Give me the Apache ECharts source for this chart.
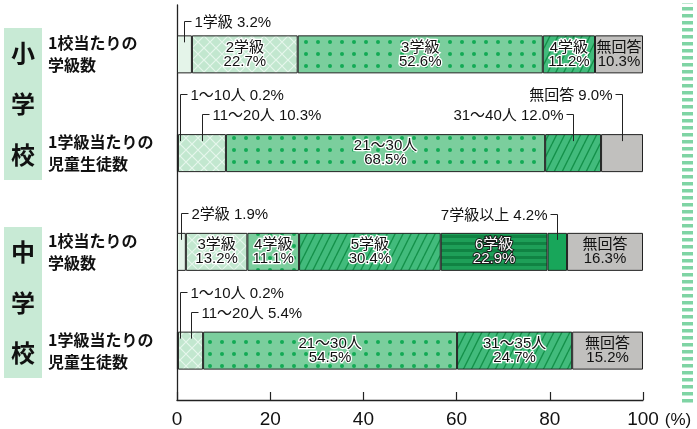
<!DOCTYPE html>
<html>
<head>
<meta charset="utf-8">
<script src="https://cdn.jsdelivr.net/npm/echarts@6/dist/echarts.min.js"></script>
<style>
  html, body { margin: 0; padding: 0; background: #fff; }
  #chart { width: 697px; height: 429px; }
</style>
</head>
<body>
<div id="chart"></div>
<script>
// ---- data ----
const rowLabels = ['1校当たりの\n学級数', '1学級当たりの\n児童生徒数', '1校当たりの\n学級数', '1学級当たりの\n児童生徒数'];
const groupLabels = ['小学校', '中学校'];

const elemClassNames = ['1学級', '2学級', '3学級', '4学級', '無回答'];
const elemClassValues = [3.2, 22.7, 52.6, 11.2, 10.3];

const elemSizeNames = ['1〜10人', '11〜20人', '21〜30人', '31〜40人', '無回答'];
const elemSizeValues = [0.2, 10.3, 68.5, 12.0, 9.0];

const juniorClassNames = ['2学級', '3学級', '4学級', '5学級', '6学級', '7学級以上', '無回答'];
const juniorClassValues = [1.9, 13.2, 11.1, 30.4, 22.9, 4.2, 16.3];

const juniorSizeNames = ['1〜10人', '11〜20人', '21〜30人', '31〜35人', '無回答'];
const juniorSizeValues = [0.2, 5.4, 54.5, 24.7, 15.2];

const xTicks = [0, 20, 40, 60, 80, 100];

// segments labelled outside the bar with a leader line: [row, segment]
const calloutSegments = [[0, 0], [1, 0], [1, 1], [1, 3], [1, 4], [2, 0], [2, 5], [3, 0], [3, 1]];

// ---- styling ----
const FONT = '"Liberation Sans", "Noto Sans CJK JP", sans-serif';
const JP_FONT = '"Noto Sans CJK JP", "Noto Sans", sans-serif';

// fill kind of each segment, per row
const rowFills = [
  ['pale', 'cross', 'dots', 'stripe', 'gray'],
  ['pale', 'cross', 'dots', 'stripe', 'gray'],
  ['pale', 'cross', 'dots', 'stripe', 'dark', 'solid', 'gray'],
  ['pale', 'cross', 'dots', 'stripe', 'gray']
];

// leader line layout for each callout: rise above bar centre and text side
const calloutLayout = [
  { rise: 33, side: 'left' },
  { rise: 59, side: 'left' },
  { rise: 39, side: 'left' },
  { rise: 39, side: 'right' },
  { rise: 59, side: 'right' },
  { rise: 39, side: 'left' },
  { rise: 38, side: 'right' },
  { rise: 59, side: 'left' },
  { rise: 39, side: 'left' }
];

function tile(w, h, draw) {
  const c = document.createElement('canvas');
  c.width = w; c.height = h;
  draw(c.getContext('2d'), w, h);
  return { image: c, repeat: 'repeat' };
}

const fills = {
  pale: '#e4f4e9',
  cross: tile(12, 12, (g, w, h) => {
    g.fillStyle = '#c2e7cf'; g.fillRect(0, 0, w, h);
    g.strokeStyle = '#e6f6ec'; g.lineWidth = 1.2;
    g.beginPath();
    g.moveTo(0, 0); g.lineTo(w, h);
    g.moveTo(w, 0); g.lineTo(0, h);
    g.stroke();
  }),
  dots: tile(12, 12, (g, w, h) => {
    g.fillStyle = '#7bce9d'; g.fillRect(0, 0, w, h);
    g.fillStyle = '#13aa55';
    g.beginPath(); g.arc(6, 6, 2, 0, Math.PI * 2); g.fill();
  }),
  stripe: tile(8, 16, (g, w, h) => {
    g.fillStyle = '#42bb7c'; g.fillRect(0, 0, w, h);
    g.strokeStyle = '#14914a'; g.lineWidth = 1.4;
    g.beginPath();
    for (let s = -w; s <= w; s += w) { g.moveTo(s, h); g.lineTo(s + w, 0); }
    g.stroke();
  }),
  dark: tile(4, 7, (g, w, h) => {
    g.fillStyle = '#1e9f58'; g.fillRect(0, 0, w, h);
    g.fillStyle = '#108343'; g.fillRect(0, 4, w, 3);
  }),
  solid: '#18a65a',
  gray: '#c1c0be'
};

const labelStyles = {
  normal: { color: '#111', textBorderColor: '#fff', textBorderWidth: 2.5 },
  dark: { color: '#fff', textBorderColor: '#1a1a1a', textBorderWidth: 2 },
  gray: { color: '#111', textBorderWidth: 0 }
};

// ---- build ----
const rows = [
  { names: elemClassNames, values: elemClassValues },
  { names: elemSizeNames, values: elemSizeValues },
  { names: juniorClassNames, values: juniorClassValues },
  { names: juniorSizeNames, values: juniorSizeValues }
];
const maxSegs = Math.max(...rows.map(r => r.values.length));
const isCallout = (i, k) => calloutSegments.some(c => c[0] === i && c[1] === k);

const barSeries = [];
for (let k = 0; k < maxSegs; k++) {
  barSeries.push({
    type: 'bar',
    stack: 'total',
    barWidth: 38,
    animation: false,
    data: rows.map((r, i) => {
      if (k >= r.values.length) return '-';
      const kind = rowFills[i][k];
      const ls = kind === 'gray' ? labelStyles.gray : kind === 'dark' ? labelStyles.dark : labelStyles.normal;
      return {
        value: r.values[k],
        name: r.names[k],
        itemStyle: { color: fills[kind], borderColor: '#222', borderWidth: 1 },
        label: Object.assign({
          show: !isCallout(i, k),
          position: 'inside',
          fontFamily: FONT,
          fontSize: 15,
          lineHeight: 14,
          formatter: p => p.name + '\n' + p.value.toFixed(1) + '%'
        }, ls)
      };
    })
  });
}

// callout anchors sit at the middle of their segment
const calloutData = calloutSegments.map(([i, k]) => {
  const vals = rows[i].values;
  let start = 0;
  for (let j = 0; j < k; j++) start += vals[j];
  return [start + vals[k] / 2, i, rows[i].names[k] + ' ' + vals[k].toFixed(1) + '%'];
});

const calloutSeries = {
  type: 'custom',
  animation: false,
  silent: true,
  z: 5,
  data: calloutData,
  encode: { x: 0, y: 1 },
  renderItem(params, api) {
    const lay = calloutLayout[params.dataIndex];
    const row = api.value(1);
    const p = api.coord([api.value(0), row]);
    const x0 = api.coord([0, row])[0];
    const x = Math.round(Math.max(p[0], x0 + 3)) + 0.5;
    const yTop = Math.round(p[1] - lay.rise) + 0.5;
    const yBot = p[1] - 12;
    const dir = lay.side === 'left' ? 1 : -1;
    return {
      type: 'group',
      children: [
        {
          type: 'polyline',
          shape: { points: [[x, yBot], [x, yTop], [x + 7 * dir, yTop]] },
          style: { stroke: '#222', lineWidth: 1, fill: null }
        },
        {
          type: 'text',
          style: {
            x: x + 10 * dir, y: yTop + 1,
            text: calloutData[params.dataIndex][2],
            align: lay.side, verticalAlign: 'middle',
            fontFamily: FONT, fontSize: 15, fill: '#111'
          }
        }
      ]
    };
  }
};

// group captions and side strip
const strip = tile(11, 7, (g, w) => {
  g.fillStyle = '#7fd4a4'; g.fillRect(0, 0, w, 3.5);
});
function groupCaption(text, top, height) {
  const chars = text.split('');
  const step = height / chars.length;
  return [{ type: 'rect', shape: { x: 4, y: top, width: 38, height: height }, style: { fill: '#c8ead5' } }]
    .concat(chars.map((ch, n) => ({
      type: 'text',
      style: {
        x: 23, y: top + step * (n + 0.5),
        text: ch, align: 'center', verticalAlign: 'middle',
        fontFamily: JP_FONT, fontSize: 24, fontWeight: 'bold', fill: '#111'
      }
    })));
}

const chart = echarts.init(document.getElementById('chart'), null, { renderer: 'canvas' });
chart.setOption({
  animation: false,
  grid: { left: 177, right: 54, top: 5, height: 398 },
  xAxis: {
    type: 'value',
    min: xTicks[0],
    max: xTicks[xTicks.length - 1],
    interval: xTicks[1] - xTicks[0],
    name: '(%)',
    nameLocation: 'end',
    nameGap: 21,
    nameTextStyle: { fontFamily: FONT, fontSize: 17, color: '#111', verticalAlign: 'top', padding: [12, 0, 0, 0] },
    axisLine: { show: true, lineStyle: { color: '#222', width: 1.3 } },
    axisTick: { show: true, inside: true, length: 8, lineStyle: { color: '#222', width: 1.2 } },
    axisLabel: { fontFamily: FONT, fontSize: 19, color: '#111', margin: 10 },
    splitLine: { show: false }
  },
  yAxis: {
    type: 'category',
    inverse: true,
    data: rowLabels,
    axisLine: { show: true, lineStyle: { color: '#222', width: 1.3 } },
    axisTick: { show: false },
    axisLabel: {
      align: 'left', margin: 129,
      fontFamily: JP_FONT, fontSize: 16, lineHeight: 22, fontWeight: 'bold',
      color: '#111', padding: [6, 0, 0, 0]
    }
  },
  graphic: [
    ...groupCaption(groupLabels[0], 28, 152),
    ...groupCaption(groupLabels[1], 227, 151),
    { type: 'rect', shape: { x: 682, y: 3, width: 11, height: 401 }, style: { fill: strip } }
  ],
  series: [...barSeries, calloutSeries]
});
</script>
</body>
</html>
